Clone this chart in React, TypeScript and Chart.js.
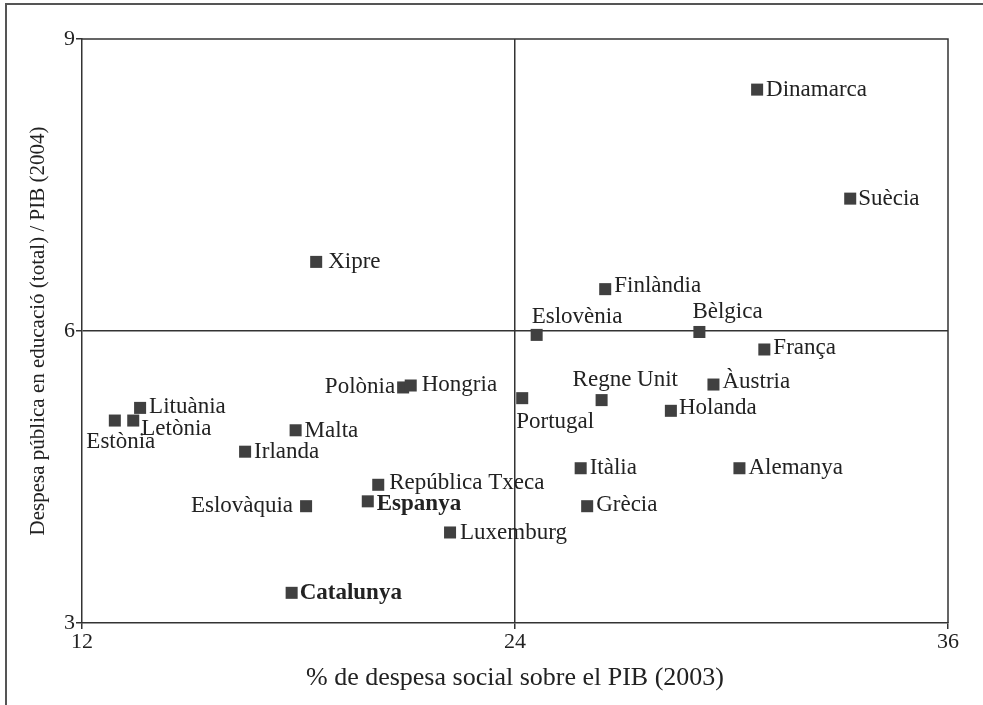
import React, { useEffect, useRef } from "react";
import { Chart, registerables } from "chart.js";

Chart.register(...registerables);

const countries = [
  "Dinamarca", "Suècia", "Xipre", "Finlàndia", "Eslovènia", "Bèlgica", "França",
  "Àustria", "Regne Unit", "Portugal", "Holanda", "Polònia", "Hongria", "Lituània",
  "Letònia", "Estònia", "Malta", "Irlanda", "República Txeca", "Espanya",
  "Eslovàquia", "Luxemburg", "Catalunya", "Itàlia", "Grècia", "Alemanya",
];
const socialSpending = [
  30.71, 33.29, 18.49, 26.5, 24.6, 29.11, 30.91,
  29.5, 26.4, 24.2, 28.32, 20.9, 21.11, 13.61,
  13.42, 12.91, 17.92, 16.52, 20.21, 19.92,
  18.21, 22.2, 17.81, 25.82, 26.0, 30.22,
];
const educationSpending = [
  8.48, 7.36, 6.71, 6.43, 5.96, 5.99, 5.81,
  5.45, 5.29, 5.31, 5.18, 5.42, 5.44, 5.21,
  5.08, 5.08, 4.98, 4.76, 4.42, 4.25,
  4.2, 3.93, 3.31, 4.59, 4.2, 4.59,
];
const boldLabels = ["Espanya", "Catalunya"];
const xTicks = [12, 24, 36];
const yTicks = [3, 6, 9];
const xTitle = "% de despesa social sobre el PIB (2003)";
const yTitle = "Despesa pública en educació (total) / PIB (2004)";

// label placement: [textAlign, dx, dy] relative to marker centre (styling only)
const labelPlacement: [CanvasTextAlign, number, number][] = [
  ["left", 9, 0], ["left", 8, 0], ["left", 12, 0], ["left", 9, -3], ["left", -5, -18],
  ["left", -7, -20], ["left", 9, -2], ["left", 9, -3], ["left", -29, -20], ["left", -6, 24],
  ["left", 8, -3], ["right", -8, -1], ["left", 11, -1], ["left", 9, -1], ["left", 8, 8],
  ["center", 6, 21], ["left", 9, 1], ["left", 9, 0], ["left", 11, -2], ["left", 9, 3],
  ["right", -13, 0], ["left", 10, 0], ["left", 8, 0], ["left", 9, 0], ["left", 9, -1],
  ["left", 9, 0],
];

const FONT = "'Liberation Serif', 'DejaVu Serif', serif";
const TEXT = "#222";
const LINE = "#333";

const framePlugin = {
  id: "frame",
  beforeDraw(chart: any) {
    const ctx = chart.ctx;
    ctx.save();
    ctx.strokeStyle = "#555";
    ctx.lineWidth = 2;
    ctx.beginPath();
    ctx.moveTo(6, 710);
    ctx.lineTo(6, 4);
    ctx.lineTo(990, 4);
    ctx.stroke();
    ctx.restore();
  },
  afterDraw(chart: any) {
    const { ctx, chartArea } = chart;
    ctx.save();
    ctx.strokeStyle = LINE;
    ctx.lineWidth = 1.5;
    ctx.beginPath();
    ctx.moveTo(chartArea.left, chartArea.top);
    ctx.lineTo(chartArea.right, chartArea.top);
    ctx.lineTo(chartArea.right, chartArea.bottom);
    ctx.stroke();
    const meta = chart.getDatasetMeta(0);
    ctx.fillStyle = TEXT;
    ctx.textBaseline = "middle";
    meta.data.forEach((pt: any, i: number) => {
      const [align, dx, dy] = labelPlacement[i];
      const name = countries[i];
      ctx.font = (boldLabels.includes(name) ? "bold " : "") + "23px " + FONT;
      ctx.textAlign = align;
      ctx.fillText(name, pt.x + dx, pt.y + dy);
    });
    ctx.restore();
  },
};

export default function App() {
  const ref = useRef<HTMLCanvasElement>(null);
  useEffect(() => {
    if (!ref.current) return;
    const chart = new Chart(ref.current, {
      type: "scatter",
      data: {
        datasets: [
          {
            data: countries.map((_, i) => ({ x: socialSpending[i], y: educationSpending[i] })),
            pointStyle: "rect",
            pointRadius: 8.5,
            pointBorderWidth: 0,
            backgroundColor: "#404040",
            borderColor: "#404040",
          },
        ],
      },
      options: {
        animation: false,
        responsive: false,
        layout: { padding: { top: 39, right: 35, left: 0, bottom: 0 } },
        plugins: { legend: { display: false }, tooltip: { enabled: false } },
        scales: {
          x: {
            type: "linear",
            min: 12,
            max: 36,
            afterBuildTicks: (s: any) => {
              s.ticks = xTicks.map((v) => ({ value: v }));
            },
            afterFit: (s: any) => {
              s.height = 82;
            },
            ticks: { color: TEXT, font: { family: FONT, size: 22 }, padding: 0, maxRotation: 0 },
            grid: {
              color: (c: any) => (c.tick && c.tick.value === 24 ? LINE : "transparent"),
              lineWidth: 1.5,
              tickColor: LINE,
              tickLength: 6,
            },
            border: { display: true, color: LINE, width: 1.5 },
            title: {
              display: true,
              text: xTitle,
              color: TEXT,
              font: { family: FONT, size: 26 },
              padding: { top: 2, bottom: 11 },
            },
          },
          y: {
            type: "linear",
            min: 3,
            max: 9,
            afterBuildTicks: (s: any) => {
              s.ticks = yTicks.map((v) => ({ value: v }));
            },
            afterFit: (s: any) => {
              s.width = 82;
            },
            ticks: { color: TEXT, font: { family: FONT, size: 22 }, padding: 1 },
            grid: {
              color: (c: any) => (c.tick && c.tick.value === 6 ? LINE : "transparent"),
              lineWidth: 1.5,
              tickColor: LINE,
              tickLength: 6,
            },
            border: { display: true, color: LINE, width: 1.5 },
            title: {
              display: true,
              text: yTitle,
              color: TEXT,
              font: { family: FONT, size: 21 },
              padding: { top: 26, bottom: 0 },
            },
          },
        },
      },
      plugins: [framePlugin],
    });
    return () => chart.destroy();
  }, []);
  return (
    <div style={{ position: "fixed", left: 0, top: 0, width: 983, height: 705, background: "#fff" }}>
      <canvas ref={ref} width={983} height={705} style={{ display: "block" }} />
    </div>
  );
}
